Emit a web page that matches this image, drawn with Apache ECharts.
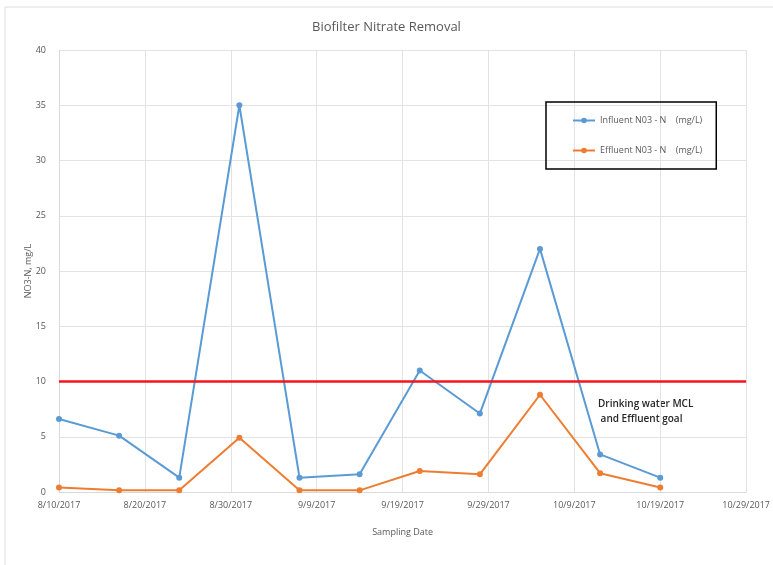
<!DOCTYPE html>
<html>
<head>
<meta charset="utf-8">
<script src="https://cdn.jsdelivr.net/npm/echarts@6/dist/echarts.min.js"></script>
<style>
  html, body { margin: 0; padding: 0; background: #fff; }
  #chart { width: 773px; height: 565px; }
</style>
</head>
<body>
<div id="chart"></div>
<script>
// sampling dates (weekly) and nitrate readings, mg/L
const sampleDates = ["2017-08-10", "2017-08-17", "2017-08-24", "2017-08-31", "2017-09-07",
  "2017-09-14", "2017-09-21", "2017-09-28", "2017-10-05", "2017-10-12", "2017-10-19"];
const influent = [6.6, 5.1, 1.3, 35, 1.3, 1.6, 11, 7.1, 22, 3.4, 1.3];
const effluent = [0.4, 0.15, 0.15, 4.9, 0.15, 0.15, 1.9, 1.6, 8.8, 1.7, 0.4];
const mclLimit = 10;
const yTicks = [0, 5, 10, 15, 20, 25, 30, 35, 40];

const startDate = Date.UTC(2017, 7, 10);
const DAY = 86400000;

// x axis is days since 8/10/2017 so ticks land every 10 days
function dayOffset(s) {
  const p = s.split("-").map(Number);
  return Math.round((Date.UTC(p[0], p[1] - 1, p[2]) - startDate) / DAY);
}
function dayLabel(v) {
  const d = new Date(startDate + v * DAY);
  return (d.getUTCMonth() + 1) + "/" + d.getUTCDate() + "/" + d.getUTCFullYear();
}

const font = "'Open Sans', 'Noto Sans', sans-serif";
const gray = "#595959";

const chart = echarts.init(document.getElementById("chart"));
chart.setOption({
  backgroundColor: "#fff",
  animation: false,
  title: {
    text: "Biofilter Nitrate Removal",
    left: "center",
    top: 16,
    textStyle: { fontFamily: font, fontSize: 13, fontWeight: "normal", color: gray }
  },
  graphic: [
    {
      type: "rect",
      shape: { x: 5, y: 7, width: 820, height: 620 },
      style: { fill: "none", stroke: "#dedede", lineWidth: 1 },
      z: -1
    },
    {
      type: "text",
      left: 598,
      top: 397,
      style: {
        text: "Drinking water MCL\n and Effluent goal",
        font: "600 10px " + font,
        fill: "#262626",
        lineHeight: 15
      }
    }
  ],
  legend: {
    orient: "vertical",
    left: 546,
    top: 102,
    padding: [14, 14, 14, 26],
    itemGap: 21,
    itemWidth: 22,
    itemHeight: 7,
    borderColor: "#000",
    borderWidth: 1.5,
    textStyle: { fontFamily: font, fontSize: 9, color: gray },
    data: ["Influent N03 - N    (mg/L)", "Effluent N03 - N    (mg/L)"]
  },
  grid: { left: 59, right: 21, top: 50, bottom: 73 },
  xAxis: {
    type: "value",
    min: 0,
    max: 80,
    interval: 10,
    name: "Sampling Date",
    nameLocation: "middle",
    nameGap: 36,
    nameTextStyle: { fontFamily: font, fontSize: 9, color: gray },
    axisLine: { show: true, lineStyle: { color: "#d9d9d9" } },
    axisTick: { show: false },
    axisLabel: { formatter: dayLabel, fontFamily: font, fontSize: 9, color: gray, margin: 9 },
    splitLine: { show: true, lineStyle: { color: "#e3e3e3" } }
  },
  yAxis: {
    type: "value",
    min: yTicks[0],
    max: yTicks[yTicks.length - 1],
    interval: 5,
    name: "NO3-N, mg/L",
    nameLocation: "middle",
    nameGap: 26,
    nameMoveOverlap: false,
    nameTextStyle: { fontFamily: font, fontSize: 9, color: gray },
    axisLine: { show: true, lineStyle: { color: "#d9d9d9" } },
    axisTick: { show: false },
    axisLabel: { fontFamily: font, fontSize: 9, color: gray, margin: 13 },
    splitLine: { show: true, lineStyle: { color: "#e3e3e3" } }
  },
  series: [
    {
      name: "Influent N03 - N    (mg/L)",
      type: "line",
      data: sampleDates.map((d, i) => [dayOffset(d), influent[i]]),
      symbol: "circle",
      symbolSize: 6,
      color: "#5b9bd5",
      lineStyle: { width: 2 },
      markLine: {
        silent: true,
        symbol: "none",
        label: { show: false },
        lineStyle: { color: "#f5141e", width: 2.5, type: "solid" },
        data: [{ yAxis: mclLimit }]
      }
    },
    {
      name: "Effluent N03 - N    (mg/L)",
      type: "line",
      data: sampleDates.map((d, i) => [dayOffset(d), effluent[i]]),
      symbol: "circle",
      symbolSize: 6,
      color: "#ed7d31",
      lineStyle: { width: 2 }
    }
  ]
});
</script>
</body>
</html>
